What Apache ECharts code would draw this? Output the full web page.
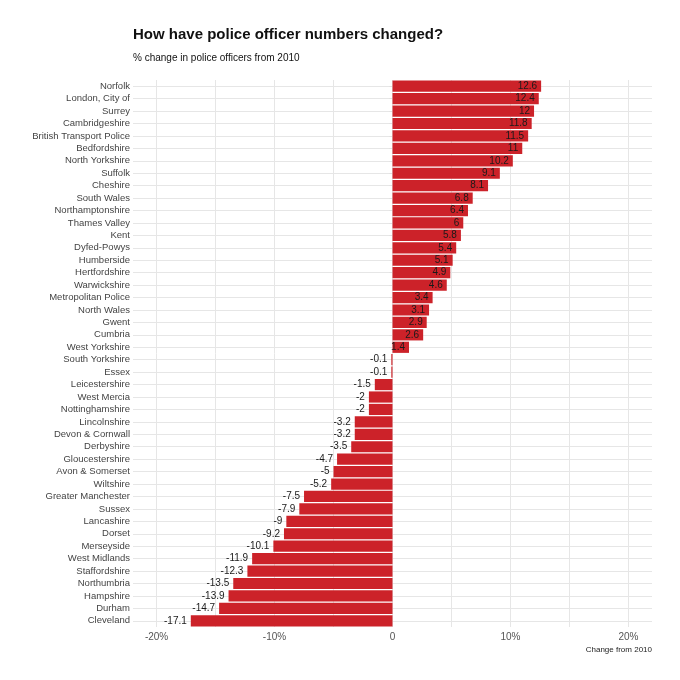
<!DOCTYPE html>
<html><head><meta charset="utf-8">
<script src="https://cdn.jsdelivr.net/npm/echarts@6/dist/echarts.min.js"></script>
<style>html,body{margin:0;padding:0;background:#fff}#c{width:680px;height:680px}</style>
</head><body><div id="c"></div>
<script>
var forces = ["Norfolk","London, City of","Surrey","Cambridgeshire","British Transport Police","Bedfordshire","North Yorkshire","Suffolk","Cheshire","South Wales","Northamptonshire","Thames Valley","Kent","Dyfed-Powys","Humberside","Hertfordshire","Warwickshire","Metropolitan Police","North Wales","Gwent","Cumbria","West Yorkshire","South Yorkshire","Essex","Leicestershire","West Mercia","Nottinghamshire","Lincolnshire","Devon & Cornwall","Derbyshire","Gloucestershire","Avon & Somerset","Wiltshire","Greater Manchester","Sussex","Lancashire","Dorset","Merseyside","West Midlands","Staffordshire","Northumbria","Hampshire","Durham","Cleveland"];
var changes = [12.6,12.4,12,11.8,11.5,11,10.2,9.1,8.1,6.8,6.4,6,5.8,5.4,5.1,4.9,4.6,3.4,3.1,2.9,2.6,1.4,-0.1,-0.1,-1.5,-2,-2,-3.2,-3.2,-3.5,-4.7,-5,-5.2,-7.5,-7.9,-9,-9.2,-10.1,-11.9,-12.3,-13.5,-13.9,-14.7,-17.1];
var tickLabels = [-20,-10,0,10,20];
var gridTicks = [-20,-15,-10,-5,0,5,10,15,20];

var FONT = '"Liberation Sans",Arial,sans-serif';
var chart = echarts.init(document.getElementById('c'));
chart.setOption({
  animation:false,
  textStyle:{fontFamily:FONT},
  title:[
    {text:'How have police officer numbers changed?', left:128, top:22,
     textStyle:{fontFamily:FONT,fontSize:15,fontWeight:'bold',color:'#111'}},
    {text:'% change in police officers from 2010', left:128, top:48,
     textStyle:{fontFamily:FONT,fontSize:10,fontWeight:'normal',color:'#111'}},
    {text:'Change from 2010', right:23, top:641,
     textStyle:{fontFamily:FONT,fontSize:8,fontWeight:'normal',color:'#222'}}
  ],
  grid:{left:133,right:28,top:80,bottom:53,containLabel:false},
  xAxis:{type:'value',min:-22,max:22,
    axisLine:{show:false},
    axisTick:{show:false,customValues:gridTicks},
    axisLabel:{customValues:tickLabels,color:'#555',fontSize:10,margin:5,
      formatter:function(v){return v===0?'0':v+'%';}},
    splitLine:{show:true,lineStyle:{color:'#e6e6e6',width:1}}
  },
  yAxis:{type:'category',data:forces,inverse:true,
    axisLine:{show:false},
    axisTick:{show:true,interval:0,alignWithLabel:true,length:3,lineStyle:{color:'#e0e0e0'}},
    axisLabel:{interval:0,color:'#444',fontSize:9.5,margin:3},
    splitLine:{show:true,interval:0,alignWithLabel:true,lineStyle:{color:'#e6e6e6',width:1}}
  },
  series:[{type:'bar',barCategoryGap:'10%',
    data:changes.map(function(v){return {value:v,label:{position:v>=0?'insideRight':'left',distance:4}};}),
    itemStyle:{color:'#cc2229'},
    label:{show:true,color:'#1a1a1a',fontSize:10,fontFamily:FONT,
      formatter:function(p){return String(p.value);}}
  }]
});
</script></body></html>
